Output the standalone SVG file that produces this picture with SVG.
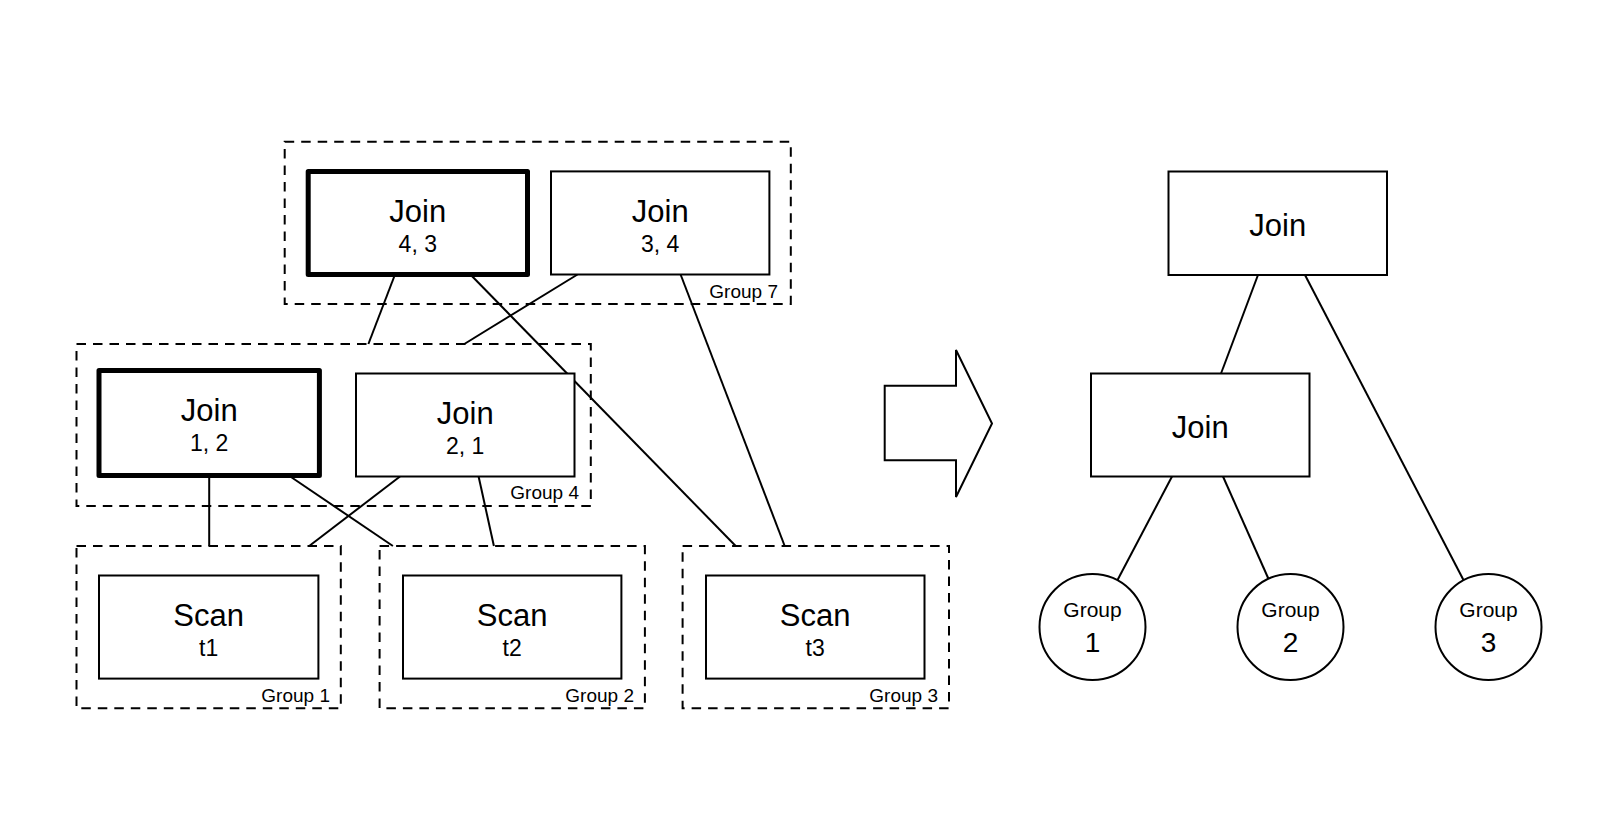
<svg xmlns="http://www.w3.org/2000/svg" width="1600" height="836" viewBox="0 0 1600 836">
<style>
.grp{fill:none;stroke:#000;stroke-width:2;stroke-dasharray:9.5 7}
.box{fill:#fff;stroke:#000;stroke-width:2}
.bold{fill:#fff;stroke:#000;stroke-width:5;stroke-linejoin:round}
.ln{stroke:#000;stroke-width:2;fill:none}
text{font-family:"Liberation Sans",Arial,Helvetica,sans-serif;fill:#000}
.t1{font-size:31px;text-anchor:middle}
.t2{font-size:23px;text-anchor:middle}
.gl{font-size:19px;text-anchor:end}
.c1{font-size:21px;text-anchor:middle}
.c2{font-size:28px;text-anchor:middle}
</style>
<rect width="1600" height="836" fill="#fff"/>
<g id="connectors">
<line class="ln" x1="395" y1="274.5" x2="368.4" y2="344"/>
<line class="ln" x1="470.4" y1="274.5" x2="735.7" y2="546"/>
<line class="ln" x1="577.5" y1="274.5" x2="464.3" y2="344"/>
<line class="ln" x1="680.6" y1="274.5" x2="784.7" y2="546"/>
<line class="ln" x1="209.2" y1="475.5" x2="209.2" y2="546"/>
<line class="ln" x1="288.8" y1="475.5" x2="392.9" y2="546"/>
<line class="ln" x1="400" y1="476.5" x2="309.2" y2="546"/>
<line class="ln" x1="478.6" y1="476.5" x2="493.9" y2="546"/>
<line class="ln" x1="1258" y1="275" x2="1221" y2="373.5"/>
<line class="ln" x1="1305" y1="275" x2="1464" y2="581"/>
<line class="ln" x1="1172" y1="476.5" x2="1117" y2="581"/>
<line class="ln" x1="1223" y1="476.5" x2="1269" y2="580"/>
</g>
<g id="group7">
<rect class="grp" x="284.7" y="141.8" width="506.1" height="162.3"/>
<text class="gl" x="778" y="298">Group 7</text>
</g>
<g id="join43">
<rect class="bold" x="308.2" y="171.4" width="219.3" height="103.1"/>
<text class="t1" x="417.8" y="222">Join</text>
<text class="t2" x="417.8" y="251.7">4, 3</text>
</g>
<g id="join34">
<rect class="box" x="551" y="171.4" width="218.4" height="103.1"/>
<text class="t1" x="660.2" y="222">Join</text>
<text class="t2" x="660.2" y="251.7">3, 4</text>
</g>
<g id="group4">
<rect class="grp" x="76.5" y="343.9" width="514.3" height="162.2"/>
<text class="gl" x="579" y="499">Group 4</text>
</g>
<g id="join12">
<rect class="bold" x="99" y="370.4" width="220.4" height="105.1"/>
<text class="t1" x="209.2" y="421">Join</text>
<text class="t2" x="209.2" y="450.7">1, 2</text>
</g>
<g id="join21">
<rect class="box" x="356" y="373.5" width="218.5" height="103"/>
<text class="t1" x="465.2" y="424">Join</text>
<text class="t2" x="465.2" y="453.7">2, 1</text>
</g>
<g id="group1">
<rect class="grp" x="76.5" y="546" width="264.3" height="162.2"/>
<text class="gl" x="330" y="702">Group 1</text>
</g>
<g id="scan1">
<rect class="box" x="99" y="575.5" width="219.4" height="103.1"/>
<text class="t1" x="208.7" y="626">Scan</text>
<text class="t2" x="208.7" y="655.8">t1</text>
</g>
<g id="group2">
<rect class="grp" x="379.6" y="546" width="265.3" height="162.2"/>
<text class="gl" x="634" y="702">Group 2</text>
</g>
<g id="scan2">
<rect class="box" x="403" y="575.5" width="218.4" height="103.1"/>
<text class="t1" x="512.2" y="626">Scan</text>
<text class="t2" x="512.2" y="655.8">t2</text>
</g>
<g id="group3">
<rect class="grp" x="682.6" y="546" width="266.4" height="162.2"/>
<text class="gl" x="938" y="702">Group 3</text>
</g>
<g id="scan3">
<rect class="box" x="706" y="575.5" width="218.5" height="103.1"/>
<text class="t1" x="815.2" y="626">Scan</text>
<text class="t2" x="815.2" y="655.8">t3</text>
</g>
<g id="arrow">
<polygon class="box" points="884.7,385.7 956,385.7 956,350 992,423.5 956,497 956,460.2 884.7,460.2"/>
</g>
<g id="rjoin-top">
<rect class="box" x="1168.5" y="171.5" width="218.5" height="103.5"/>
<text class="t1" x="1277.7" y="236">Join</text>
</g>
<g id="rjoin-mid">
<rect class="box" x="1091" y="373.5" width="218.5" height="103"/>
<text class="t1" x="1200.2" y="438">Join</text>
</g>
<g id="cgroup1">
<circle class="box" cx="1092.5" cy="627" r="53"/>
<text class="c1" x="1092.5" y="617">Group</text>
<text class="c2" x="1092.5" y="652">1</text>
</g>
<g id="cgroup2">
<circle class="box" cx="1290.5" cy="627" r="53"/>
<text class="c1" x="1290.5" y="617">Group</text>
<text class="c2" x="1290.5" y="652">2</text>
</g>
<g id="cgroup3">
<circle class="box" cx="1488.5" cy="627" r="53"/>
<text class="c1" x="1488.5" y="617">Group</text>
<text class="c2" x="1488.5" y="652">3</text>
</g>
</svg>
